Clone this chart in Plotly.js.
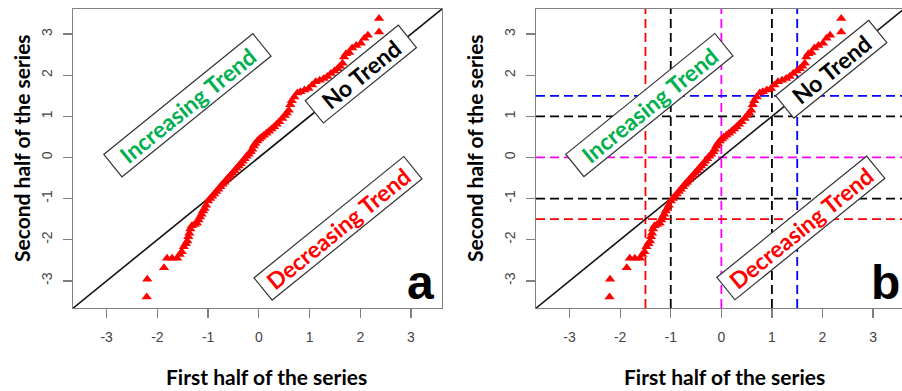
<!DOCTYPE html>
<html>
<head>
<meta charset="utf-8">
<script src="https://cdn.plot.ly/plotly-3.0.1.min.js"></script>
<style>
html,body{margin:0;padding:0;background:#fff;overflow:hidden;width:902px;height:391px;}
#chart{width:906px;height:391px;}
</style>
</head>
<body>
<div id="chart"></div>
<script>
// Sorted first half (x) vs sorted second half (y) of the series
const firstHalf = [-2.21,-2.20,-1.87,-1.81,-1.71,-1.61,-1.56,-1.52,-1.48,-1.44,-1.41,-1.39,-1.37,-1.35,-1.32,-1.27,-1.22,-1.19,-1.16,-1.13,-1.10,-1.07,-1.04,-1.00,-0.96,-0.92,-0.88,-0.84,-0.80,-0.76,-0.72,-0.68,-0.64,-0.60,-0.56,-0.52,-0.48,-0.44,-0.40,-0.36,-0.32,-0.28,-0.24,-0.20,-0.16,-0.13,-0.10,-0.07,-0.03,0.01,0.05,0.10,0.15,0.20,0.25,0.30,0.35,0.40,0.46,0.51,0.55,0.59,0.62,0.65,0.70,0.76,0.82,0.90,0.98,1.05,1.12,1.20,1.28,1.35,1.42,1.49,1.55,1.60,1.65,1.68,1.72,1.78,1.84,1.92,2.01,2.08,2.15,2.37,2.37];
const secondHalf = [-3.39,-2.96,-2.68,-2.45,-2.45,-2.45,-2.36,-2.29,-2.17,-2.10,-2.03,-1.93,-1.84,-1.74,-1.66,-1.63,-1.60,-1.52,-1.45,-1.38,-1.30,-1.24,-1.16,-1.06,-1.00,-0.94,-0.89,-0.83,-0.77,-0.71,-0.65,-0.60,-0.54,-0.49,-0.43,-0.38,-0.32,-0.26,-0.21,-0.15,-0.09,-0.03,0.03,0.08,0.14,0.20,0.28,0.34,0.40,0.45,0.49,0.54,0.59,0.64,0.69,0.745,0.81,0.87,0.95,1.02,1.08,1.15,1.28,1.38,1.47,1.57,1.60,1.64,1.68,1.76,1.84,1.88,1.92,1.97,2.04,2.10,2.16,2.22,2.29,2.44,2.52,2.55,2.66,2.72,2.78,2.90,2.97,3.05,3.38];
const tickVals = [-3,-2,-1,0,1,2,3];
const tickText = ["-3","-2","-1","0","1","2","3"];
const oneToOne = [-4,4];
// Threshold lines in panel b
const vLines = [-1.5,-1,0,1,1.5];
const vColors = ["#ff0000","#000000","#ff00ff","#000000","#0000ff"];
const hLines = [1.5,1,0,-1,-1.5];
const hColors = ["#0000ff","#000000","#ff00ff","#000000","#ff0000"];
// Zone labels per panel
const zoneText = ["Increasing Trend","No Trend","Decreasing Trend"];
const zoneColor = ["#00b050","#000000","#ff0000"];
const zoneXa = [-1.40,2.01,1.57], zoneYa = [1.27,2.04,-1.72];
const zoneXb = [-1.42,2.18,1.57], zoneYb = [1.27,2.14,-1.72];
const zoneW = [189,117,190];
const panelLetters = ["a","b"];

const W = 906, H = 391;
const px = v => v / W, py = v => 1 - v / H;

function axisBase(dom){
  return {
    domain: dom, range: [-3.664, 3.611], autorange: false,
    tickvals: tickVals, ticktext: tickText, ticks: "outside", ticklen: 9,
    tickwidth: 1.3, tickcolor: "#7f7f7f",
    showline: true, mirror: true, linecolor: "#808080", linewidth: 1.3,
    showgrid: false, zeroline: false,
    tickfont: {family: "Liberation Sans, Arial, sans-serif", size: 14, color: "#444"},
    fixedrange: true
  };
}
const ydom = [1 - 308/H, 1 - 9/H];
const xa = axisBase([px(73), px(442)]);
const xb = axisBase([px(536), px(904)]);
const ya = axisBase(ydom); ya.range = [-3.66, 3.61]; ya.tickangle = -90; ya.anchor = "x";
const yb = axisBase(ydom); yb.range = [-3.66, 3.61]; yb.tickangle = -90; yb.anchor = "x2";
xa.anchor = "y"; xb.anchor = "y2";
xa.ticklabelstandoff = 7; xb.ticklabelstandoff = 7;
ya.ticklabelstandoff = 5; yb.ticklabelstandoff = 5;

const pts = (xr, yr) => ({
  x: firstHalf, y: secondHalf, xaxis: xr, yaxis: yr, type: "scatter", mode: "markers",
  marker: {symbol: "triangle-up", size: 9, color: "#ff0000", line: {width: 0}},
  hoverinfo: "skip", cliponaxis: true
});
const diag = (xr, yr) => ({
  x: oneToOne, y: oneToOne, xaxis: xr, yaxis: yr, type: "scatter", mode: "lines",
  line: {color: "#111", width: 1.6}, hoverinfo: "skip"
});

const shapes = [];
vLines.forEach((v,i) => shapes.push({type:"line", xref:"x2", yref:"y2 domain", x0:v, x1:v, y0:0, y1:1,
  line:{color:vColors[i], width:1.8, dash:"9px,5px"}, layer:"below"}));
hLines.forEach((v,i) => shapes.push({type:"line", xref:"x2 domain", yref:"y2", x0:0, x1:1, y0:v, y1:v,
  line:{color:hColors[i], width:1.8, dash:"9px,5px"}, layer:"below"}));

const boxFont = "Lato, 'Open Sans', sans-serif";
const ann = [];
function zones(xr, yr, zx, zy){
  zoneText.forEach((t,i) => ann.push({
    xref: xr, yref: yr, x: zx[i], y: zy[i], text: "<b>"+t+"</b>", showarrow: false,
    textangle: -39, font: {family: boxFont, size: 23, color: zoneColor[i]},
    bgcolor: "#ffffff", bordercolor: "#333333", borderwidth: 1.2, borderpad: 1,
    width: zoneW[i], height: 26, xanchor: "center", yanchor: "middle"
  }));
}
zones("x","y",zoneXa,zoneYa);
zones("x2","y2",zoneXb,zoneYb);

const titleFont = {family: boxFont, size: 21, color: "#000"};
ann.push({xref:"paper", yref:"paper", x:px(266), y:py(376), text:"<b>First half of the series</b>", showarrow:false, font:titleFont, xanchor:"center", yanchor:"middle"});
ann.push({xref:"paper", yref:"paper", x:px(724), y:py(376), text:"<b>First half of the series</b>", showarrow:false, font:titleFont, xanchor:"center", yanchor:"middle"});
ann.push({xref:"paper", yref:"paper", x:px(21), y:py(148), text:"<b>Second half of the series</b>", showarrow:false, font:titleFont, textangle:-90, xanchor:"center", yanchor:"middle"});
ann.push({xref:"paper", yref:"paper", x:px(474), y:py(148), text:"<b>Second half of the series</b>", showarrow:false, font:titleFont, textangle:-90, xanchor:"center", yanchor:"middle"});
const letterX = [420.5, 885];
panelLetters.forEach((l,i) => ann.push({xref:"paper", yref:"paper", x:px(letterX[i]), y:py(282), text:"<b>"+l+"</b>", showarrow:false,
  font:{family:"Liberation Sans, Arial, sans-serif", size:48, color:"#000"}, xanchor:"center", yanchor:"middle"}));

const layout = {
  width: W, height: H, margin: {l:0, r:0, t:0, b:0},
  paper_bgcolor: "#fff", plot_bgcolor: "#fff", showlegend: false,
  xaxis: xa, yaxis: ya, xaxis2: xb, yaxis2: yb,
  shapes: shapes, annotations: ann
};
Plotly.newPlot("chart", [diag("x","y"), pts("x","y"), diag("x2","y2"), pts("x2","y2")], layout, {displayModeBar:false, staticPlot:true});
</script>
</body>
</html>
